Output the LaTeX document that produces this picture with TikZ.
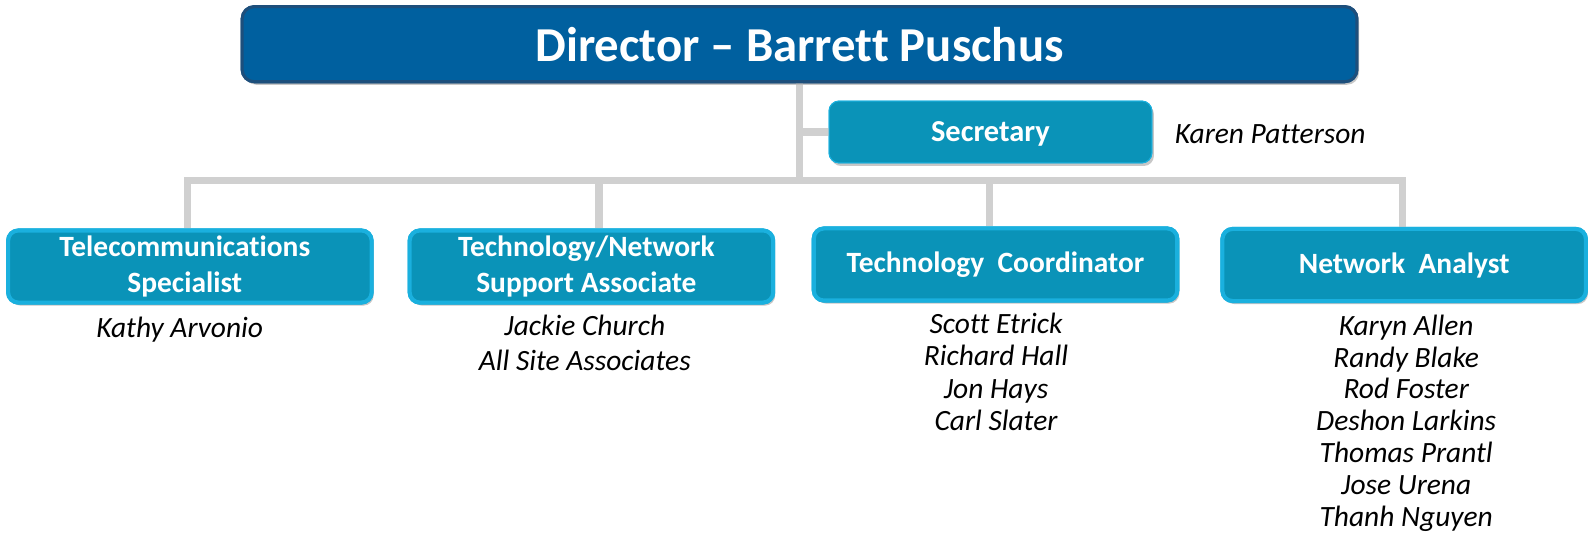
\documentclass[tikz,border=0pt]{standalone}
\usepackage{fontspec}
\setmainfont{Carlito}[Ligatures=NoCommon]
\usetikzlibrary{shadows,calc}
\definecolor{dirfill}{HTML}{00609F}
\definecolor{dirdraw}{HTML}{1D4F7C}
\definecolor{boxfill}{HTML}{0A93B8}
\definecolor{boxdraw}{HTML}{1AB0DE}
\definecolor{linegray}{HTML}{D0D0D0}
\tikzset{
  dirbox/.style={draw=dirdraw, line width=3pt, fill=dirfill, rounded corners=12pt,
    minimum width=1098pt, minimum height=74pt, inner sep=0pt, text=white,
    font=\fontsize{48}{52}\selectfont\bfseries,
    drop shadow={shadow xshift=2pt, shadow yshift=-3pt, opacity=0.25}},
  secbox/.style={fill=boxfill, draw=boxdraw, line width=1pt, rounded corners=10pt,
    minimum width=318pt, minimum height=61pt, inner sep=0pt, text=white, text depth=0pt,
    font=\fontsize{30}{34}\selectfont\bfseries,
    drop shadow={shadow xshift=2pt, shadow yshift=-3pt, opacity=0.25}},
  rolebox/.style={fill=boxfill, draw=boxdraw, line width=4pt, rounded corners=10pt,
    minimum width=358pt, minimum height=71pt, inner sep=0pt, text=white, align=center,
    font=\fontsize{29}{36}\selectfont\bfseries,
    drop shadow={shadow xshift=2pt, shadow yshift=-3pt, opacity=0.25}},
  names/.style={align=center, anchor=north, inner sep=0pt},
  conn/.style={draw=linegray, line width=7pt}
}
\newcommand{\trail}{\hspace*{10pt}}
\begin{document}
\begin{tikzpicture}[x=1pt,y=-1pt]
\useasboundingbox (0,0) rectangle (1568,526);
\coordinate (bus) at (787.5,178);
\node[dirbox] (dir) at (787.5,43.5) {Director – Barrett Puschus};
\node[secbox] (sec) at (975.5,130) {Secretary};
\node[rolebox] (r1) at (187,262.5) {Telecommunications\trail\\Specialist\trail};
\node[rolebox] (r2) at (582.5,262.5) {Technology/Network\trail\\Support Associate\trail};
\node[rolebox] (r3) at (980.5,260.5) {Technology\ \ Coordinator};
\node[rolebox] (r4) at (1383,261) {Network\ \ Analyst};
\path[conn] (dir.south) -- (bus);
\path[conn] (dir.south |- sec.west) -- (sec.west);
\path[conn] (bus) -| ($(r1.north)+(-2,0)$);
\path[conn] (bus) -| ($(r2.north)+(7.5,0)$);
\path[conn] (bus) -| ($(r3.north)+(-5.5,0)$);
\path[conn] (bus) -| ($(r4.north)+(-2,0)$);
% boxes again, on top of the connectors
\node[dirbox] at (dir) {Director – Barrett Puschus};
\node[secbox] at (sec) {Secretary};
\node[rolebox] at (r1) {Telecommunications\trail\\Specialist\trail};
\node[rolebox] at (r2) {Technology/Network\trail\\Support Associate\trail};
\node[rolebox] at (r3) {Technology\ \ Coordinator};
\node[rolebox] at (r4) {Network\ \ Analyst};
\node[font=\fontsize{29}{32}\selectfont\itshape, anchor=west, inner sep=0pt] (karen) at (1157,132) {Karen Patterson};
\node[names, font=\fontsize{29}{32}\selectfont\itshape] (n1) at (177,312) {Kathy Arvonio};
\node[names, font=\fontsize{29}{35}\selectfont\itshape] (n2) at (576,310) {Jackie Church\\All Site Associates};
\node[names, font=\fontsize{29}{32}\selectfont\itshape] (n3) at (981,308) {Scott Etrick\\Richard Hall\\Jon Hays\\Carl Slater};
\node[names, font=\fontsize{29}{31.3}\selectfont\itshape] (n4) at (1385,310) {Karyn Allen\\Randy Blake\\Rod Foster\\Deshon Larkins\\Thomas Prantl\\Jose Urena\\Thanh Nguyen};
\end{tikzpicture}
\end{document}
